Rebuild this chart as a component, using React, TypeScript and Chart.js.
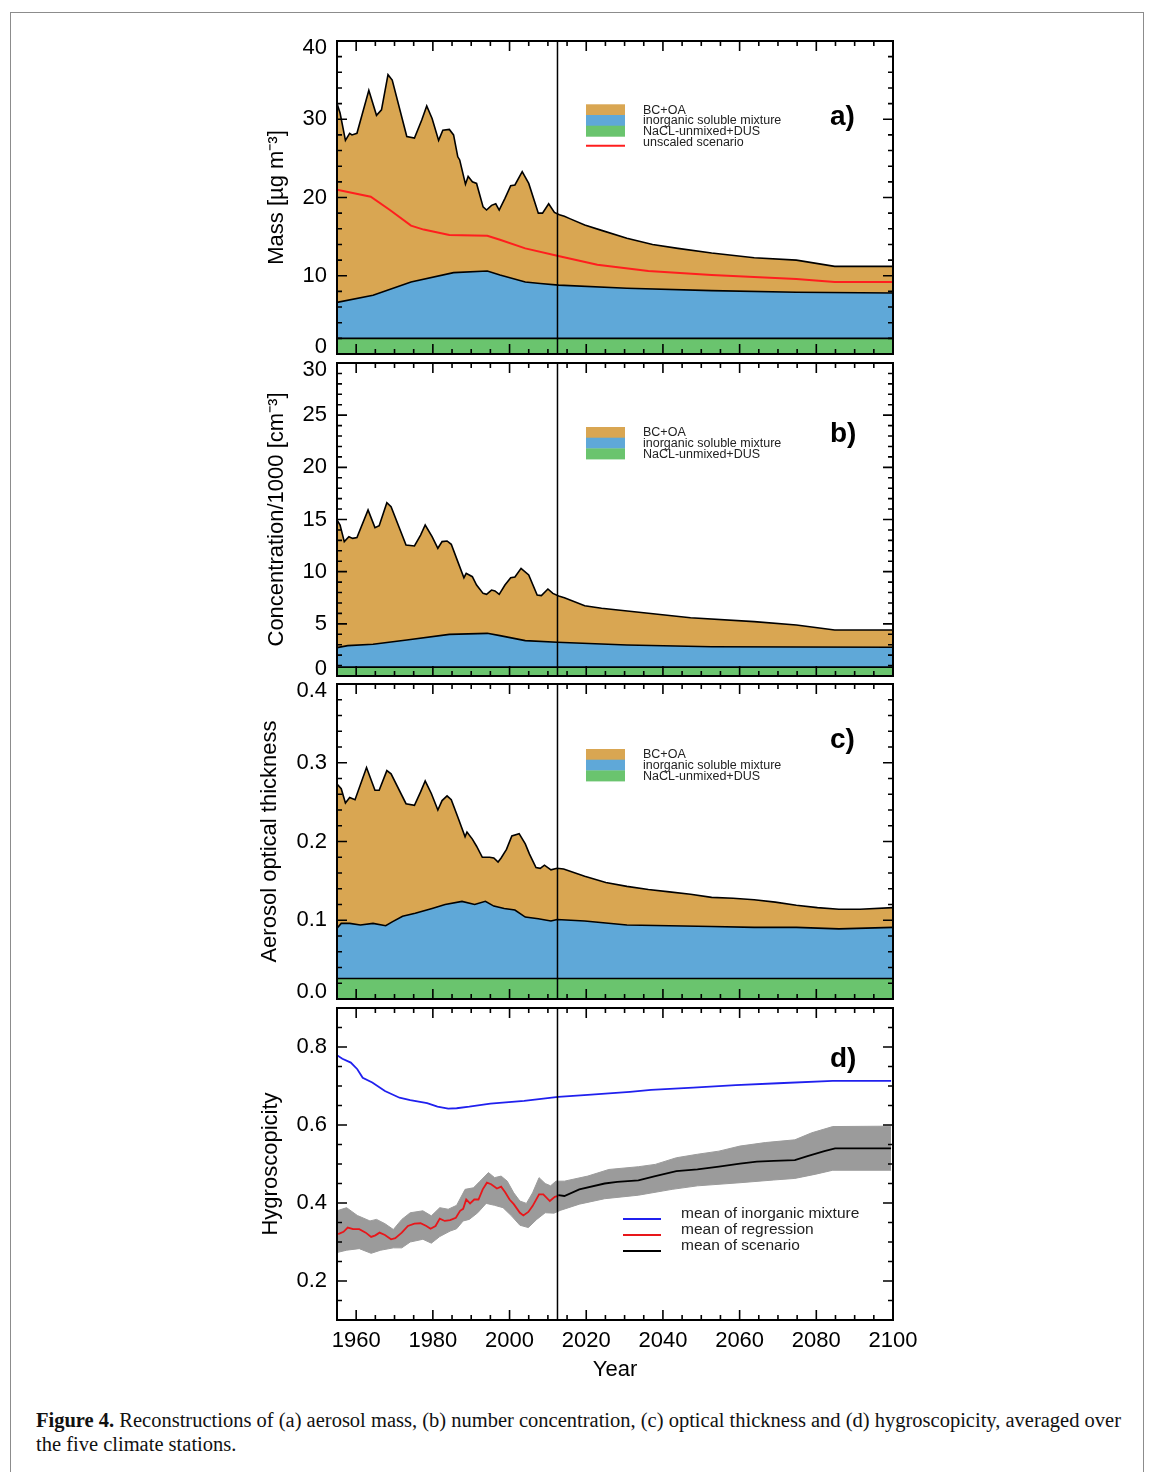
import React, { useEffect, useRef } from "react";
import { Chart, registerables } from "chart.js";

Chart.register(...registerables);

type Pt = [number, number];

const YEAR_MIN = 1955;
const YEAR_MAX = 2100;
const SPLIT_YEAR = 2012.5;
const YEAR_TICKS = [1960, 1980, 2000, 2020, 2040, 2060, 2080, 2100];

const ORANGE = "#D9A652";
const BLUE = "#5FA8D8";
const GREEN = "#6AC46E";
const GRAY = "#9B9B9B";

// (a) aerosol mass
const MASS_TICKS = [0, 10, 20, 30, 40];
const massTotal: Pt[] = [
  [1955.0, 32.0], [1955.8, 30.8], [1957.2, 27.3], [1958.3, 28.2], [1958.9, 28.0], [1960.2, 28.2],
  [1963.3, 33.7], [1965.3, 30.5], [1966.6, 31.2], [1968.3, 35.7], [1969.4, 35.0], [1973.2, 27.8],
  [1975.2, 27.6], [1977.1, 29.9], [1978.4, 31.7], [1979.8, 30.1], [1981.5, 27.3], [1982.6, 28.6],
  [1984.3, 28.7], [1985.4, 28.0], [1986.5, 25.2], [1987.0, 24.8], [1988.5, 21.7], [1989.2, 22.7],
  [1990.3, 22.0], [1991.4, 21.8], [1993.1, 18.8], [1994.0, 18.4], [1995.3, 19.0], [1996.4, 19.2],
  [1997.3, 18.4], [1998.8, 19.9], [2000.3, 21.5], [2001.4, 21.6], [2003.3, 23.3], [2005.0, 21.8],
  [2007.5, 18.0], [2008.6, 18.0], [2010.2, 19.2], [2011.7, 18.1], [2013.0, 17.8], [2014.3, 17.6],
  [2015.7, 17.3], [2019.6, 16.5], [2024.0, 15.8], [2030.6, 14.8], [2037.3, 14.0], [2043.9, 13.5],
  [2052.7, 12.9], [2063.8, 12.3], [2074.8, 12.0], [2084.8, 11.2], [2100, 11.2],
];
const massInorganic: Pt[] = [
  [1955, 6.6], [1964.4, 7.5], [1974.3, 9.2], [1985.4, 10.4], [1994.2, 10.6], [1997.5, 10.1],
  [2004.1, 9.2], [2008.0, 9.0], [2012.8, 8.8], [2030.6, 8.4], [2052.7, 8.1], [2074.8, 7.9], [2100, 7.8],
];
const massNacl: Pt[] = [[1955, 2.0], [2100, 2.0]];
const massUnscaled: Pt[] = [
  [1955, 21.0], [1963.8, 20.1], [1968.8, 18.4], [1974.3, 16.4], [1977.6, 15.9], [1984.3, 15.2],
  [1994.2, 15.1], [1997.5, 14.6], [2004.1, 13.5], [2013, 12.5], [2022.9, 11.4], [2036.2, 10.6],
  [2052.7, 10.1], [2074.8, 9.6], [2084.8, 9.2], [2100, 9.2],
];

// (b) number concentration / 1000
const CONC_TICKS = [0, 5, 10, 15, 20, 25, 30];
const concTotal: Pt[] = [
  [1955.0, 14.95], [1955.8, 14.47], [1956.9, 12.88], [1958.1, 13.35], [1959.1, 13.19], [1960.2, 13.26],
  [1963.1, 15.91], [1964.9, 14.22], [1966.0, 14.41], [1968.0, 16.61], [1969.1, 16.23], [1973.0, 12.56],
  [1975.2, 12.46], [1976.8, 13.51], [1978.0, 14.47], [1979.8, 13.35], [1981.3, 12.24], [1982.4, 12.88],
  [1983.7, 12.94], [1984.8, 12.62], [1986.5, 10.96], [1988.1, 9.42], [1988.7, 9.84], [1990.3, 9.52],
  [1991.4, 8.72], [1993.1, 7.92], [1994.0, 7.83], [1995.3, 8.24], [1996.2, 8.15], [1997.3, 7.83],
  [1998.8, 8.72], [2000.3, 9.42], [2001.4, 9.49], [2003.0, 10.32], [2005.0, 9.68], [2007.2, 7.76],
  [2008.3, 7.7], [2010.0, 8.34], [2011.3, 7.92], [2012.8, 7.67], [2014.3, 7.51], [2019.6, 6.74],
  [2024.0, 6.49], [2036.2, 6.01], [2047.2, 5.59], [2063.8, 5.21], [2074.8, 4.89], [2084.8, 4.41], [2100, 4.41],
];
const concInorganic: Pt[] = [
  [1955, 2.72], [1957.8, 2.91], [1964.4, 3.04], [1973.2, 3.45], [1984.3, 3.99], [1994.2, 4.09],
  [1997.5, 3.87], [2004.1, 3.39], [2012.4, 3.23], [2030.6, 2.97], [2052.7, 2.81], [2074.8, 2.78], [2100, 2.75],
];
const concNacl: Pt[] = [[1955, 0.85], [2100, 0.85]];

// (c) aerosol optical thickness
const AOT_TICKS = [0, 0.1, 0.2, 0.3, 0.4];
const aotTotal: Pt[] = [
  [1955.0, 0.273], [1956.1, 0.267], [1957.2, 0.249], [1958.3, 0.256], [1959.7, 0.253], [1962.7, 0.294],
  [1964.9, 0.265], [1966.0, 0.265], [1968.0, 0.29], [1969.1, 0.286], [1973.0, 0.248], [1975.2, 0.246],
  [1976.8, 0.263], [1978.0, 0.277], [1979.6, 0.261], [1981.3, 0.24], [1982.4, 0.252], [1983.7, 0.258],
  [1984.8, 0.253], [1986.5, 0.231], [1988.4, 0.206], [1988.9, 0.212], [1990.3, 0.203], [1991.4, 0.194],
  [1992.9, 0.18], [1994.8, 0.18], [1995.9, 0.179], [1997.0, 0.174], [1997.8, 0.179], [1999.2, 0.19],
  [2000.6, 0.207], [2002.5, 0.21], [2004.1, 0.197], [2005.2, 0.184], [2006.9, 0.167], [2008.0, 0.166],
  [2009.1, 0.17], [2010.8, 0.164], [2012.4, 0.166], [2014.1, 0.165], [2019.6, 0.156], [2025.1, 0.148],
  [2030.6, 0.143], [2036.2, 0.139], [2041.7, 0.136], [2047.2, 0.133], [2052.7, 0.129], [2058.3, 0.128],
  [2063.8, 0.126], [2069.3, 0.123], [2074.8, 0.119], [2080.3, 0.116], [2085.9, 0.114], [2091.4, 0.114], [2100, 0.116],
];
const aotInorganic: Pt[] = [
  [1955, 0.09], [1956.1, 0.096], [1958.3, 0.096], [1961.1, 0.094], [1964.4, 0.096], [1967.7, 0.093],
  [1969.4, 0.098], [1972.1, 0.105], [1975.4, 0.109], [1979.8, 0.115], [1983.2, 0.12], [1987.6, 0.124],
  [1990.9, 0.12], [1993.7, 0.124], [1995.9, 0.118], [1998.6, 0.115], [2001.4, 0.113], [2004.1, 0.104],
  [2007.5, 0.102], [2010.8, 0.099], [2012.4, 0.101], [2019.6, 0.099], [2030.6, 0.094], [2041.7, 0.093],
  [2052.7, 0.092], [2063.8, 0.091], [2074.8, 0.091], [2085.9, 0.089], [2100, 0.091],
];
const aotNacl: Pt[] = [[1955, 0.026], [2100, 0.026]];

// (d) hygroscopicity
const HYG_TICKS = [0.2, 0.4, 0.6, 0.8];
const hygInorganic: Pt[] = [
  [1955, 0.779], [1956.4, 0.77], [1958.6, 0.76], [1960.3, 0.743], [1961.7, 0.721], [1964.2, 0.709],
  [1967.5, 0.687], [1971.3, 0.67], [1974.1, 0.664], [1978.5, 0.656], [1981.2, 0.647], [1984, 0.642],
  [1986.2, 0.643], [1989.5, 0.647], [1995, 0.655], [2003.8, 0.662], [2012.7, 0.672], [2020.4, 0.677],
  [2031.4, 0.685], [2036.9, 0.69], [2047.9, 0.696], [2059, 0.702], [2070, 0.707], [2084.3, 0.713], [2099.5, 0.713],
];
const hygRegression: Pt[] = [
  [1955.3, 0.32], [1956.7, 0.326], [1957.8, 0.337], [1959.2, 0.333], [1960.8, 0.333], [1962.5, 0.324],
  [1963.9, 0.313], [1965, 0.317], [1966.1, 0.324], [1967.5, 0.318], [1969.1, 0.307], [1970.2, 0.31],
  [1971.9, 0.324], [1973.5, 0.341], [1975.2, 0.347], [1976.8, 0.348], [1978.3, 0.341], [1979.4, 0.334],
  [1980.7, 0.341], [1981.8, 0.36], [1983.1, 0.354], [1984.5, 0.356], [1986, 0.362], [1987.1, 0.38],
  [1987.9, 0.385], [1988.7, 0.409], [1989.7, 0.399], [1990.8, 0.409], [1991.9, 0.409], [1993, 0.435],
  [1994.1, 0.452], [1995.2, 0.448], [1996.7, 0.437], [1997.8, 0.442], [1998.9, 0.427], [2000, 0.409],
  [2001.1, 0.397], [2002.7, 0.375], [2003.6, 0.368], [2004.9, 0.377], [2006, 0.392], [2007.7, 0.422],
  [2008.8, 0.422], [2010.5, 0.405], [2011.8, 0.416], [2012.7, 0.418],
];
const hygScenario: Pt[] = [
  [2012.7, 0.42], [2014.3, 0.418], [2018.2, 0.435], [2024.8, 0.45], [2028.1, 0.454], [2033.6, 0.458],
  [2038, 0.469], [2043.5, 0.482], [2049, 0.486], [2054.6, 0.493], [2060.1, 0.501], [2064.5, 0.506],
  [2068.9, 0.508], [2074.4, 0.51], [2077.7, 0.52], [2082.1, 0.533], [2084.9, 0.54], [2099.5, 0.54],
];
const hygUpper: Pt[] = [
  [1955, 0.38], [1957.5, 0.388], [1960.3, 0.368], [1963.6, 0.354], [1965.3, 0.358], [1967.5, 0.347],
  [1969.7, 0.332], [1971.9, 0.358], [1974.1, 0.375], [1977.4, 0.38], [1979.6, 0.367], [1981.8, 0.388],
  [1984.0, 0.384], [1986.2, 0.394], [1988.4, 0.435], [1990.6, 0.439], [1992.3, 0.456], [1994.5, 0.478],
  [1996.1, 0.465], [1997.8, 0.469], [1999.4, 0.456], [2001.1, 0.426], [2002.7, 0.405], [2004.4, 0.399],
  [2006.0, 0.426], [2007.7, 0.465], [2009.3, 0.45], [2010.7, 0.444], [2012.1, 0.456], [2014.3, 0.456],
  [2020.4, 0.469], [2025.9, 0.486], [2033.6, 0.493], [2038.0, 0.499], [2043.5, 0.516], [2049.0, 0.525],
  [2054.6, 0.533], [2060.1, 0.546], [2066.7, 0.555], [2074.4, 0.562], [2078.8, 0.58], [2084.3, 0.596], [2099.5, 0.597],
];
const hygLower: Pt[] = [
  [1955, 0.273], [1957.5, 0.279], [1960.8, 0.283], [1963.9, 0.271], [1966.4, 0.279], [1969.7, 0.285],
  [1971.9, 0.285], [1974.1, 0.3], [1977.4, 0.307], [1979.6, 0.297], [1981.8, 0.314], [1984.5, 0.328],
  [1986.2, 0.334], [1987.9, 0.354], [1989.5, 0.358], [1991.7, 0.375], [1993.9, 0.399], [1996.1, 0.394],
  [1998.3, 0.388], [2000.5, 0.367], [2002.7, 0.343], [2004.9, 0.337], [2007.1, 0.358], [2009.3, 0.375],
  [2011.6, 0.374], [2013.2, 0.381], [2018.2, 0.397], [2024.8, 0.411], [2033.6, 0.42], [2042.4, 0.435],
  [2049.0, 0.444], [2060.1, 0.452], [2068.9, 0.459], [2074.4, 0.463], [2079.9, 0.474], [2084.3, 0.484], [2099.5, 0.484],
];

const FONT = '"Liberation Sans", Arial, Helvetica, sans-serif';
const CANVAS_LEFT = 250;
const CANVAS_W = 700;
const PLOT_LEFT = 337;
const PLOT_RIGHT = 893;
const X_AXIS_H = 67;
const END_LABEL_SHIFT = 7;

type LegendItem = { kind: "box" | "line"; color: string; text: string };

interface PanelSpec {
  canvasTop: number;
  canvasBottom: number;
  plotTop: number;
  plotBottom: number;
  yMin: number;
  yMax: number;
  yTicks: number[];
  yMinor: number;
  decimals: number;
  yTitle: string;
  titleCenterX: number;
  showX: boolean;
  label: string;
  labelBaseline: number;
  legend: LegendItem[];
  legendTop: number;
  datasets: any[];
}

const toXY = (pts: Pt[]) => pts.map(([x, y]) => ({ x, y }));

const areaDs = (pts: Pt[], color: string) => ({
  data: toXY(pts),
  borderColor: "#000",
  borderWidth: 1.6,
  backgroundColor: color,
  fill: "origin",
  pointRadius: 0,
  tension: 0,
});
const lineDs = (pts: Pt[], color: string, width = 1.8) => ({
  data: toXY(pts),
  borderColor: color,
  borderWidth: width,
  fill: false,
  pointRadius: 0,
  tension: 0,
});

const boxLegend: LegendItem[] = [
  { kind: "box", color: ORANGE, text: "BC+OA" },
  { kind: "box", color: BLUE, text: "inorganic soluble mixture" },
  { kind: "box", color: GREEN, text: "NaCL-unmixed+DUS" },
];

const PANELS: PanelSpec[] = [
  {
    canvasTop: 11, canvasBottom: 384, plotTop: 41, plotBottom: 354,
    yMin: 0, yMax: 40, yTicks: MASS_TICKS, yMinor: 2, decimals: 0,
    yTitle: "Mass [µg m⁻³]", titleCenterX: 277, showX: false,
    label: "a)", labelBaseline: 125,
    legend: [...boxLegend, { kind: "line", color: "#FF1E1E", text: "unscaled scenario" }],
    legendTop: 104.3,
    datasets: [
      lineDs(massUnscaled, "#FF1E1E", 2),
      areaDs(massNacl, GREEN),
      areaDs(massInorganic, BLUE),
      areaDs(massTotal, ORANGE),
    ],
  },
  {
    canvasTop: 333, canvasBottom: 706, plotTop: 363, plotBottom: 676,
    yMin: 0, yMax: 30, yTicks: CONC_TICKS, yMinor: 1, decimals: 0,
    yTitle: "Concentration/1000 [cm⁻³]", titleCenterX: 277, showX: false,
    label: "b)", labelBaseline: 442,
    legend: boxLegend,
    legendTop: 427,
    datasets: [
      areaDs(concNacl, GREEN),
      areaDs(concInorganic, BLUE),
      areaDs(concTotal, ORANGE),
    ],
  },
  {
    canvasTop: 654, canvasBottom: 1029, plotTop: 684, plotBottom: 999,
    yMin: 0, yMax: 0.4, yTicks: AOT_TICKS, yMinor: 0.02, decimals: 1,
    yTitle: "Aerosol optical thickness", titleCenterX: 270, showX: false,
    label: "c)", labelBaseline: 748,
    legend: boxLegend,
    legendTop: 749,
    datasets: [
      areaDs(aotNacl, GREEN),
      areaDs(aotInorganic, BLUE),
      areaDs(aotTotal, ORANGE),
    ],
  },
  {
    canvasTop: 978, canvasBottom: 1390, plotTop: 1008, plotBottom: 1320,
    yMin: 0.1, yMax: 0.9, yTicks: HYG_TICKS, yMinor: 0.05, decimals: 1,
    yTitle: "Hygroscopicity", titleCenterX: 271, showX: true,
    label: "d)", labelBaseline: 1067,
    legend: [
      { kind: "line", color: "#2020EE", text: "mean of inorganic mixture" },
      { kind: "line", color: "#E8161A", text: "mean of regression" },
      { kind: "line", color: "#000", text: "mean of scenario" },
    ],
    legendTop: 1206,
    datasets: [
      lineDs(hygInorganic, "#2020EE", 1.8),
      lineDs(hygRegression, "#E8161A", 1.8),
      lineDs(hygScenario, "#000", 1.8),
      {
        data: toXY(hygUpper), borderColor: GRAY, borderWidth: 1, backgroundColor: GRAY,
        fill: "+1", pointRadius: 0, tension: 0,
      },
      {
        data: toXY(hygLower), borderColor: GRAY, borderWidth: 1, fill: false,
        pointRadius: 0, tension: 0,
      },
    ],
  },
];

function decorPlugin(spec: PanelSpec) {
  return {
    id: "decor" + spec.label,
    afterDatasetsDraw(chart: any) {
      const ctx: CanvasRenderingContext2D = chart.ctx;
      const { left, right, top, bottom } = chart.chartArea;
      const xs = chart.scales.x;
      const ys = chart.scales.y;
      const oy = spec.canvasTop;
      const ox = CANVAS_LEFT;
      ctx.save();
      ctx.strokeStyle = "#000";
      ctx.lineCap = "butt";
      // split line between reconstruction and scenario
      ctx.lineWidth = 1.5;
      const sx = xs.getPixelForValue(SPLIT_YEAR);
      ctx.beginPath();
      ctx.moveTo(sx, top);
      ctx.lineTo(sx, bottom);
      ctx.stroke();
      // inward ticks on x
      ctx.lineWidth = 1.6;
      ctx.beginPath();
      for (let v = YEAR_MIN + 5; v < YEAR_MAX; v += 5) {
        const px = xs.getPixelForValue(v);
        const len = v % 20 === 0 ? 10 : 5;
        ctx.moveTo(px, bottom);
        ctx.lineTo(px, bottom - len);
        ctx.moveTo(px, top);
        ctx.lineTo(px, top + len);
      }
      // inward ticks on y
      const n = Math.round((spec.yMax - spec.yMin) / spec.yMinor);
      for (let i = 1; i < n; i++) {
        const v = spec.yMin + i * spec.yMinor;
        const major = spec.yTicks.some((t) => Math.abs(t - v) < 1e-6);
        const len = major ? 10 : 5;
        const py = ys.getPixelForValue(v);
        ctx.moveTo(left, py);
        ctx.lineTo(left + len, py);
        ctx.moveTo(right, py);
        ctx.lineTo(right - len, py);
      }
      ctx.stroke();
      // frame
      ctx.lineWidth = 2;
      ctx.strokeRect(left, top, right - left, bottom - top);
      // panel label
      ctx.fillStyle = "#000";
      ctx.font = `bold 28px ${FONT}`;
      ctx.textAlign = "left";
      ctx.textBaseline = "alphabetic";
      ctx.fillText(spec.label, 830 - ox, spec.labelBaseline - oy);
      // legend
      if (spec.showX) {
        ctx.font = `15.5px ${FONT}`;
        ctx.textBaseline = "middle";
        spec.legend.forEach((it, i) => {
          const cy = spec.legendTop + 8 + i * 16;
          ctx.strokeStyle = it.color;
          ctx.lineWidth = 2;
          ctx.beginPath();
          ctx.moveTo(623 - ox, cy + 5 - oy);
          ctx.lineTo(661 - ox, cy + 5 - oy);
          ctx.stroke();
          ctx.fillStyle = "#222";
          ctx.fillText(it.text, 681 - ox, cy - oy);
        });
      } else {
        const h = 10.7;
        ctx.font = `12.5px ${FONT}`;
        ctx.textBaseline = "middle";
        spec.legend.forEach((it, i) => {
          const y0 = spec.legendTop + i * h;
          if (it.kind === "box") {
            ctx.fillStyle = it.color;
            ctx.fillRect(586 - ox, y0 - oy, 39, h + 0.3);
          } else {
            ctx.strokeStyle = it.color;
            ctx.lineWidth = 2;
            ctx.beginPath();
            ctx.moveTo(586 - ox, y0 + h / 2 + 4 - oy);
            ctx.lineTo(625 - ox, y0 + h / 2 + 4 - oy);
            ctx.stroke();
          }
          ctx.fillStyle = "#222";
          ctx.fillText(it.text, 643 - ox, y0 + h / 2 + 0.5 - oy);
        });
      }
      ctx.restore();
    },
  };
}

function Panel({ spec }: { spec: PanelSpec }) {
  const ref = useRef<HTMLCanvasElement | null>(null);
  const height = spec.canvasBottom - spec.canvasTop;
  useEffect(() => {
    if (!ref.current) return;
    const padTop = spec.plotTop - spec.canvasTop;
    const padRight = CANVAS_W - (PLOT_RIGHT - CANVAS_LEFT);
    const padBottom = spec.showX
      ? spec.canvasBottom - spec.plotBottom - X_AXIS_H
      : spec.canvasBottom - spec.plotBottom;
    const isEnd = (v: number) =>
      Math.abs(v - spec.yMin) < 1e-9 || Math.abs(v - spec.yMax) < 1e-9;
    const xScale: any = {
      type: "linear",
      min: YEAR_MIN,
      max: YEAR_MAX,
      display: spec.showX,
      grid: { display: false, drawTicks: false },
      border: { display: false },
      ticks: {
        color: "#000",
        font: { family: FONT, size: 22 },
        padding: 8,
        maxRotation: 0,
        autoSkip: false,
        callback: (v: any) => String(v),
      },
      afterBuildTicks: (s: any) => {
        s.ticks = YEAR_TICKS.map((v) => ({ value: v }));
      },
      title: {
        display: spec.showX,
        text: "Year",
        color: "#000",
        font: { family: FONT, size: 22 },
        padding: { top: 2, bottom: 4 },
      },
    };
    if (spec.showX) {
      xScale.afterFit = (s: any) => {
        s.height = X_AXIS_H;
      };
    }
    const chart = new Chart(ref.current, {
      type: "line",
      data: { datasets: spec.datasets },
      options: {
        animation: false,
        responsive: false,
        maintainAspectRatio: false,
        devicePixelRatio: 1,
        events: [],
        layout: { padding: { top: padTop, right: padRight, bottom: padBottom, left: 0 } },
        plugins: {
          legend: { display: false },
          tooltip: { enabled: false },
          title: { display: false },
        },
        scales: {
          x: xScale,
          y: {
            type: "linear",
            min: spec.yMin,
            max: spec.yMax,
            grid: { display: false, drawTicks: false },
            border: { display: false },
            ticks: {
              color: "#000",
              // end labels sit just inside the frame, as in the original figure
              font: (c: any) => ({
                family: FONT,
                size: 22,
                lineHeight: c.tick && isEnd(c.tick.value) ? (2 * END_LABEL_SHIFT) / 22 : 1.2,
              }),
              padding: 10,
              callback: (v: any) => {
                const s = Number(v).toFixed(spec.decimals);
                if (Math.abs(v - spec.yMin) < 1e-9) return [s, ""];
                if (Math.abs(v - spec.yMax) < 1e-9) return ["", s];
                return s;
              },
            },
            afterBuildTicks: (s: any) => {
              s.ticks = spec.yTicks.map((v) => ({ value: v }));
            },
            afterFit: (s: any) => {
              s.width = PLOT_LEFT - CANVAS_LEFT;
            },
            title: {
              display: true,
              text: spec.yTitle,
              color: "#000",
              font: { family: FONT, size: 22 },
              padding: { top: spec.titleCenterX - CANVAS_LEFT - 13.2, bottom: 0 },
            },
          },
        },
      } as any,
      plugins: [decorPlugin(spec) as any],
    });
    return () => chart.destroy();
  }, [spec]);
  return (
    <canvas
      ref={ref}
      width={CANVAS_W}
      height={height}
      style={{ position: "absolute", left: CANVAS_LEFT, top: spec.canvasTop, width: CANVAS_W, height }}
    />
  );
}

export default function App() {
  return (
    <div style={{ position: "absolute", left: 0, top: 0, width: 1153, height: 1472, background: "#fff", overflow: "hidden" }}>
      <div
        style={{
          position: "absolute", left: 10, top: 12, width: 1132, height: 1500,
          borderTop: "1px solid #8c8c8c", borderLeft: "1px solid #8c8c8c", borderRight: "1px solid #8c8c8c",
        }}
      />
      {PANELS.map((p) => (
        <Panel key={p.label} spec={p} />
      ))}
      <div
        style={{
          position: "absolute", left: 36, top: 1408, whiteSpace: "nowrap",
          fontFamily: '"Liberation Serif", "Times New Roman", serif', fontSize: 20.5, lineHeight: "24px", color: "#111",
        }}
      >
        <b>Figure 4.</b> Reconstructions of (a) aerosol mass, (b) number concentration, (c) optical thickness and (d) hygroscopicity, averaged over
        <br />
        the five climate stations.
      </div>
    </div>
  );
}
